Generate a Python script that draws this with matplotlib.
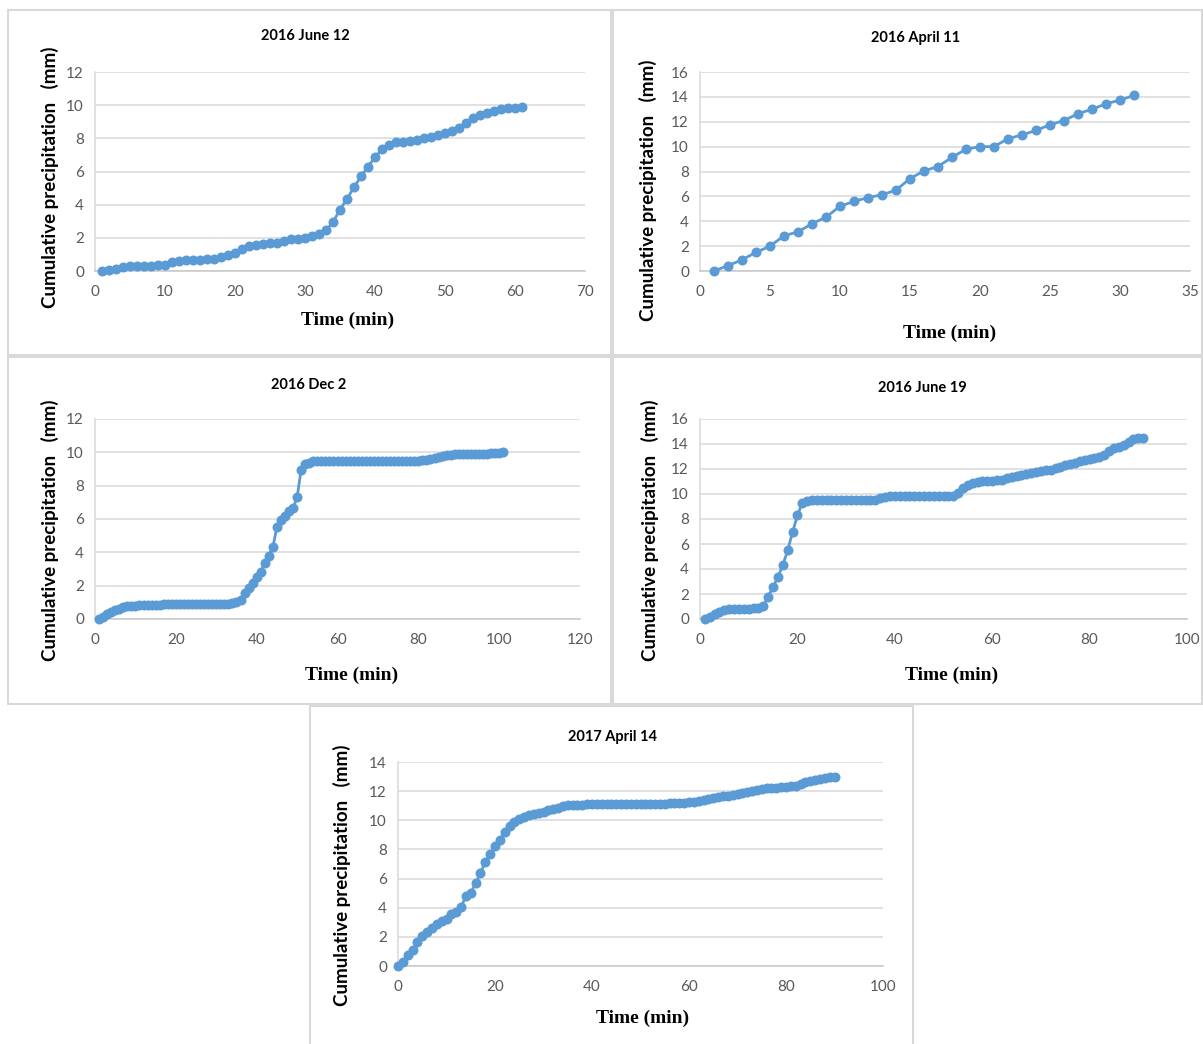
import numpy as np
import matplotlib
matplotlib.use("Agg")
import matplotlib.pyplot as plt
from matplotlib.patches import Rectangle

# ---------------- data ----------------
titles = ["2016 June 12", "2016 April 11", "2016 Dec 2", "2016 June 19", "2017 April 14"]

p1_start = 1
p1_y = [0, 0.05, 0.15, 0.25, 0.3, 0.3, 0.3, 0.3, 0.35, 0.35,
        0.55, 0.6, 0.65, 0.65, 0.65, 0.7, 0.7, 0.85, 0.95, 1.1,
        1.3, 1.5, 1.55, 1.65, 1.7, 1.7, 1.8, 1.9, 1.95, 2.0,
        2.1, 2.25, 2.45, 2.95, 3.7, 4.35, 5.05, 5.7, 6.3, 6.85,
        7.35, 7.6, 7.75, 7.8, 7.85, 7.9, 8.0, 8.1, 8.2, 8.3,
        8.45, 8.65, 8.9, 9.2, 9.4, 9.55, 9.65, 9.75, 9.8, 9.85, 9.9]

p2_start = 1
p2_y = [0, 0.43, 0.9, 1.5, 2.0, 2.83, 3.15, 3.8, 4.33, 5.2,
        5.6, 5.9, 6.13, 6.5, 7.43, 8.05, 8.4, 9.14, 9.79, 10.0,
        10.0, 10.64, 10.94, 11.3, 11.76, 12.1, 12.65, 13.0, 13.45, 13.74, 14.12]

p3_start = 1
p3_y = [0, 0.14, 0.28, 0.42, 0.52, 0.6, 0.72, 0.8, 0.8, 0.8,
        0.82, 0.83, 0.84, 0.85, 0.86, 0.87, 0.88, 0.88, 0.88, 0.88,
        0.88, 0.88, 0.88, 0.88, 0.88, 0.88, 0.88, 0.88, 0.88, 0.88,
        0.88, 0.88, 0.9, 0.98, 1.05, 1.15, 1.55, 1.85, 2.15, 2.55,
        2.85, 3.35, 3.8, 4.3, 5.5, 5.95, 6.2, 6.45, 6.65, 7.3,
        8.95, 9.3, 9.38, 9.45, 9.5, 9.5, 9.5, 9.5, 9.5, 9.5,
        9.5, 9.5, 9.5, 9.5, 9.5, 9.5, 9.5, 9.5, 9.5, 9.5,
        9.5, 9.5, 9.5, 9.5, 9.5, 9.5, 9.5, 9.5, 9.5, 9.5,
        9.52, 9.55, 9.6, 9.65, 9.7, 9.76, 9.82, 9.86, 9.87, 9.87,
        9.87, 9.87, 9.87, 9.87, 9.87, 9.87, 9.87, 9.93, 9.96, 9.98, 10.0]

p4_start = 1
p4_y = [0, 0.2, 0.4, 0.6, 0.75, 0.78, 0.8, 0.8, 0.8, 0.82,
        0.85, 0.9, 1.05, 1.8, 2.56, 3.35, 4.3, 5.5, 6.93, 8.3,
        9.25, 9.4, 9.5, 9.52, 9.52, 9.52, 9.52, 9.52, 9.52, 9.52,
        9.52, 9.52, 9.52, 9.52, 9.52, 9.52, 9.65, 9.78, 9.85, 9.87,
        9.87, 9.87, 9.87, 9.87, 9.87, 9.87, 9.87, 9.87, 9.87, 9.87,
        9.87, 9.87, 10.05, 10.45, 10.72, 10.9, 10.97, 11.0, 11.02, 11.05,
        11.1, 11.15, 11.25, 11.35, 11.42, 11.5, 11.6, 11.68, 11.75, 11.82,
        11.88, 11.93, 12.05, 12.19, 12.3, 12.4, 12.5, 12.6, 12.7, 12.8,
        12.88, 12.95, 13.1, 13.4, 13.65, 13.78, 13.9, 14.15, 14.37, 14.48, 14.5]

p5_start = 0
p5_y = [0, 0.27, 0.75, 1.1, 1.67, 2.06, 2.33, 2.63, 2.9, 3.09,
        3.2, 3.55, 3.7, 4.03, 4.8, 5.03, 5.67, 6.4, 7.14, 7.67,
        8.24, 8.65, 9.22, 9.6, 9.89, 10.1, 10.25, 10.34, 10.46, 10.53,
        10.6, 10.69, 10.76, 10.87, 10.98, 11.03, 11.05, 11.06, 11.08, 11.1,
        11.1, 11.1, 11.1, 11.1, 11.1, 11.1, 11.1, 11.12, 11.13, 11.14,
        11.15, 11.15, 11.15, 11.15, 11.15, 11.15, 11.16, 11.18, 11.2, 11.22,
        11.25, 11.28, 11.32, 11.4, 11.47, 11.53, 11.58, 11.64, 11.7, 11.76,
        11.82, 11.88, 11.95, 12.02, 12.1, 12.17, 12.2, 12.23, 12.25, 12.27,
        12.3, 12.33, 12.38, 12.5, 12.6, 12.68, 12.75, 12.82, 12.88, 12.95, 13.0]

series = [(p1_start, p1_y), (p2_start, p2_y), (p3_start, p3_y), (p4_start, p4_y), (p5_start, p5_y)]

x_limits = [(0, 70), (0, 35), (0, 120), (0, 100), (0, 100)]
x_steps = [10, 5, 20, 20, 20]
y_limits = [(0, 12), (0, 16), (0, 12), (0, 16), (0, 14)]

x_label = "Time (min)"
y_label = "Cumulative precipitation   (mm)"

# ---------------- layout (pixels) ----------------
W, H = 1203, 1044
fig = plt.figure(figsize=(W / 100, H / 100), dpi=100)
fig.patch.set_facecolor("white")

def fx(px):
    return px / W

def fy(py):
    return 1 - py / H

# panel borders: (left, top, right, bottom)
borders = [(8, 10, 611, 355), (613, 10, 1202, 355),
           (8, 357, 611, 704), (613, 357, 1202, 704),
           (310, 706, 913, 1048)]
for (l, t, r, b) in borders:
    fig.add_artist(Rectangle((fx(l), fy(b)), fx(r) - fx(l), fy(t) - fy(b),
                             transform=fig.transFigure, fill=False,
                             edgecolor="#D9D9D9", linewidth=1.5))

# axes boxes: (left, top, right, bottom)
axes_px = [(95, 72, 585, 271), (700, 72, 1190, 271),
           (95, 419, 580, 619), (700, 419, 1187, 619),
           (398, 762, 883, 966)]
title_pos = [(305, 36), (916, 38), (309, 385), (922, 388), (612, 737)]
xlabel_pos = [(348, 320), (950, 333), (352, 675), (952, 675), (643, 1018)]
ylabel_pos = [(50, 177), (648, 190), (50, 530), (650, 530), (342, 875)]

blue = "#5B9BD5"
grid_c = "#D9D9D9"
tick_c = "#595959"

for i in range(5):
    l, t, r, b = axes_px[i]
    ax = fig.add_axes([fx(l), fy(b), fx(r) - fx(l), fy(t) - fy(b)])
    start, yv = series[i]
    xv = np.arange(start, start + len(yv))
    ax.plot(xv, yv, color=blue, linewidth=2.0, marker="o", markersize=7.2,
            markeredgewidth=0, clip_on=False, zorder=3)
    ax.set_xlim(*x_limits[i])
    ax.set_ylim(*y_limits[i])
    ax.set_xticks(np.arange(x_limits[i][0], x_limits[i][1] + 0.1, x_steps[i]))
    ax.set_yticks(np.arange(y_limits[i][0], y_limits[i][1] + 0.1, 2))
    ax.grid(axis="y", color=grid_c, linewidth=1.1, zorder=0)
    ax.set_axisbelow(True)
    for s in ["top", "right"]:
        ax.spines[s].set_visible(False)
    ax.spines["left"].set_color(grid_c)
    ax.spines["bottom"].set_color("#C8C8C8")
    ax.spines["left"].set_linewidth(1.1)
    ax.spines["bottom"].set_linewidth(1.1)
    ax.tick_params(length=0, labelsize=11, labelcolor=tick_c, pad=8)
    for lab in ax.get_xticklabels() + ax.get_yticklabels():
        lab.set_fontfamily("Lato")
    ax.tick_params(axis="x", pad=10)

    tx, ty = title_pos[i]
    fig.text(fx(tx), fy(ty), titles[i], ha="center", va="center",
             fontsize=10.5, fontweight="bold", family="Lato", color="black")
    xx, xy = xlabel_pos[i]
    fig.text(fx(xx), fy(xy), x_label, ha="center", va="center",
             fontsize=14, fontweight="bold", family="Liberation Serif", color="black")
    yx, yy = ylabel_pos[i]
    fig.text(fx(yx), fy(yy), y_label, ha="center", va="center", rotation=90,
             fontsize=13.5, fontweight="bold", family="Lato", color="black")

fig.savefig("out.png", dpi=100, facecolor="white")
